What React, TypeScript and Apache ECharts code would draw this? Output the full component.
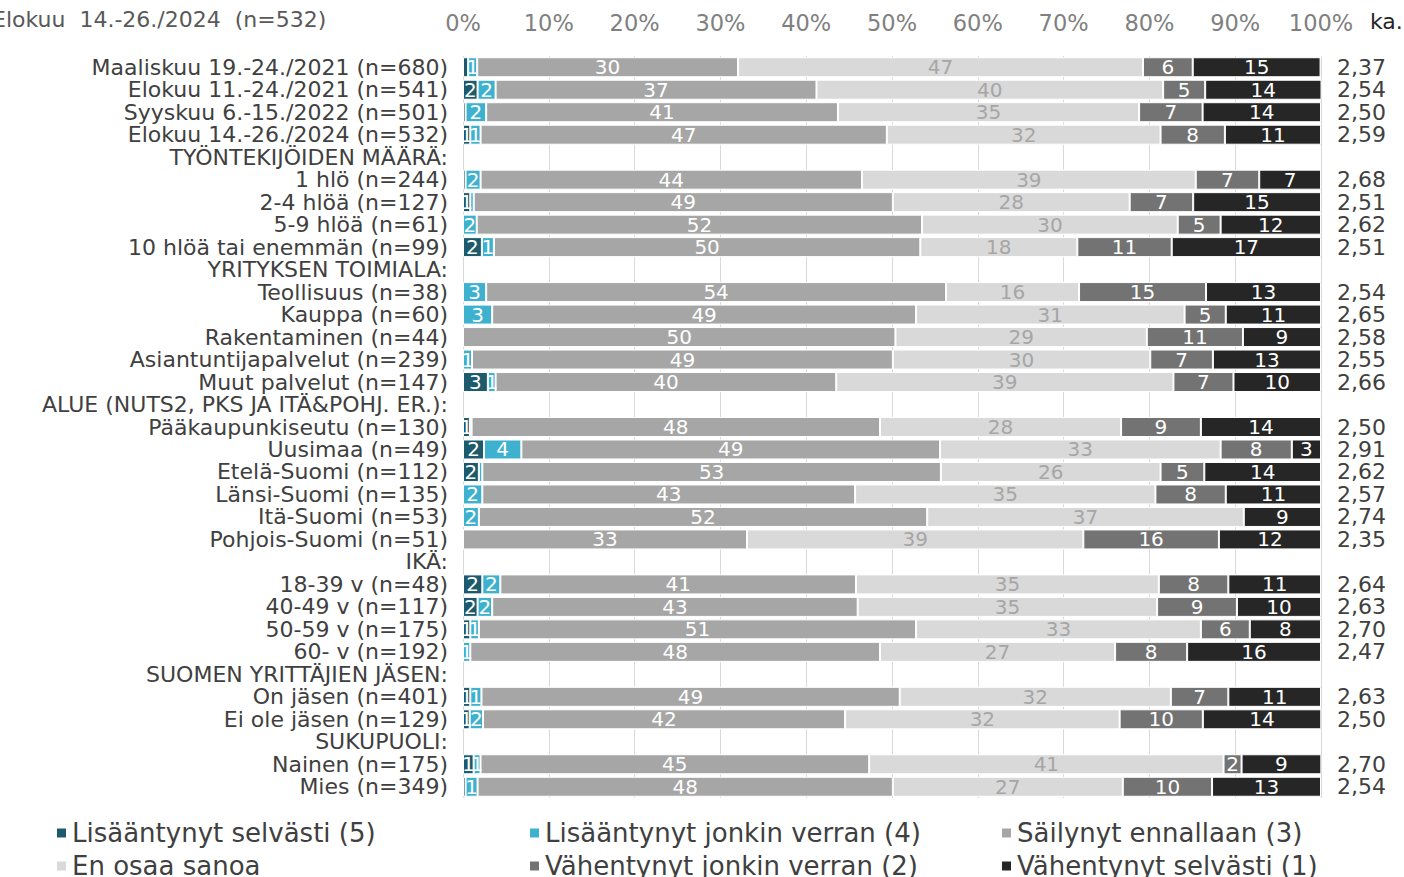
import React, { useEffect, useRef } from "react";
import * as echarts from "echarts";

const categories = [
  "Maaliskuu 19.-24./2021 (n=680)",
  "Elokuu 11.-24./2021 (n=541)",
  "Syyskuu 6.-15./2022 (n=501)",
  "Elokuu 14.-26./2024 (n=532)",
  "TYÖNTEKIJÖIDEN MÄÄRÄ:",
  "1 hlö (n=244)",
  "2-4 hlöä (n=127)",
  "5-9 hlöä (n=61)",
  "10 hlöä tai enemmän (n=99)",
  "YRITYKSEN TOIMIALA:",
  "Teollisuus (n=38)",
  "Kauppa (n=60)",
  "Rakentaminen (n=44)",
  "Asiantuntijapalvelut (n=239)",
  "Muut palvelut (n=147)",
  "ALUE (NUTS2, PKS JA ITÄ&POHJ. ER.):",
  "Pääkaupunkiseutu (n=130)",
  "Uusimaa (n=49)",
  "Etelä-Suomi (n=112)",
  "Länsi-Suomi (n=135)",
  "Itä-Suomi (n=53)",
  "Pohjois-Suomi (n=51)",
  "IKÄ:",
  "18-39 v (n=48)",
  "40-49 v (n=117)",
  "50-59 v (n=175)",
  "60- v (n=192)",
  "SUOMEN YRITTÄJIEN JÄSEN:",
  "On jäsen (n=401)",
  "Ei ole jäsen (n=129)",
  "SUKUPUOLI:",
  "Nainen (n=175)",
  "Mies (n=349)",
];

const averages = [
  "2,37", "2,54", "2,50", "2,59", "",
  "2,68", "2,51", "2,62", "2,51", "",
  "2,54", "2,65", "2,58", "2,55", "2,66", "",
  "2,50", "2,91", "2,62", "2,57", "2,74", "2,35", "",
  "2,64", "2,63", "2,70", "2,47", "",
  "2,63", "2,50", "",
  "2,70", "2,54",
];

const N = null;
const lisSelvasti = [0.6, 1.7, 0.3, 0.85, N, 0.3, 0.85, 0, 2.2, N, 0, 0, 0, 0, 2.9, N, 0.8, 2.45, 1.85, 0, 0, 0, N, 2.25, 1.7, 0.85, 0, N, 0.85, 0.78, N, 1.24, 0.3];
const lisJonkin = [1.05, 2.1, 2.4, 1.2, N, 1.75, 0.4, 1.6, 1.4, N, 2.7, 3.4, 0, 1.05, 0.9, N, 0.2, 4.35, 0.4, 2.25, 1.85, 0, N, 2.1, 1.7, 1.0, 0.85, N, 1.3, 1.55, N, 0.8, 1.4];
const sailynyt = [30.4, 37.4, 41.0, 47.35, N, 44.45, 48.85, 51.9, 49.7, N, 53.6, 49.4, 50.4, 49.05, 39.7, N, 47.6, 48.8, 53.45, 43.45, 52.25, 33.1, N, 41.45, 42.6, 50.95, 47.75, N, 48.75, 42.2, N, 45.3, 48.4];
const enOsaa = [47.2, 40.4, 35.1, 31.9, N, 38.9, 27.6, 29.8, 18.3, N, 15.5, 31.3, 29.3, 30.0, 39.3, N, 28.1, 32.7, 25.6, 35.0, 36.9, 39.2, N, 35.3, 34.9, 33.2, 27.4, N, 31.6, 32.0, N, 41.3, 26.8];
const vahJonkin = [5.8, 4.9, 7.4, 7.5, N, 7.4, 7.4, 5.0, 11.0, N, 14.8, 4.8, 11.2, 7.3, 7.0, N, 9.3, 8.3, 5.1, 8.2, 0, 15.8, N, 8.1, 9.3, 5.7, 8.4, N, 6.7, 9.7, N, 2.1, 10.4];
const vahSelvasti = [14.9, 13.6, 13.8, 11.2, N, 7.2, 14.9, 11.7, 17.4, N, 13.4, 11.1, 9.1, 12.6, 10.2, N, 14.0, 3.4, 13.6, 11.1, 9.0, 11.9, N, 10.8, 9.8, 8.3, 15.6, N, 10.8, 13.8, N, 9.3, 12.7];

const seriesNames = [
  "Lisääntynyt selvästi (5)",
  "Lisääntynyt jonkin verran (4)",
  "Säilynyt ennallaan (3)",
  "En osaa sanoa",
  "Vähentynyt jonkin verran (2)",
  "Vähentynyt selvästi (1)",
];
const seriesData = [lisSelvasti, lisJonkin, sailynyt, enOsaa, vahJonkin, vahSelvasti];
const seriesColors = ["#1d5a6b", "#3eb1cf", "#a6a6a6", "#d9d9d9", "#737373", "#262626"];
const labelColors = ["#ffffff", "#ffffff", "#ffffff", "#a6a6a6", "#ffffff", "#ffffff"];
const xTicks = [0, 10, 20, 30, 40, 50, 60, 70, 80, 90, 100];

const FONT = "DejaVu Sans";

export default function App() {
  const ref = useRef<HTMLDivElement>(null);
  useEffect(() => {
    if (!ref.current) return;
    const chart = echarts.init(ref.current, null, { renderer: "svg" });
    const series = seriesData.map((d, i) => ({
      name: seriesNames[i],
      type: "bar",
      stack: "total",
      barWidth: 20,
      data: d,
      itemStyle: { color: seriesColors[i], borderColor: "#ffffff", borderWidth: 1 },
      label: {
        show: true,
        position: "inside",
        color: labelColors[i],
        fontSize: 20,
        fontFamily: FONT,
        formatter: (p: any) => (p.value != null && p.value >= 0.7 ? String(Math.round(p.value)) : ""),
      },
      emphasis: { disabled: true },
    }));
    const legendText = { fontSize: 26, color: "#404040", fontFamily: FONT };
    const legendLefts = [55, 528, 1000, 55, 528, 1000];
    const legendTops = [820, 820, 820, 853, 853, 853];
    const legends = seriesNames.map((name, i) => ({
      data: [name],
      left: legendLefts[i],
      top: legendTops[i],
      orient: "horizontal",
      icon: "rect",
      itemWidth: 11,
      itemHeight: 11,
      itemTextGap: 6,
      padding: 0,
      selectedMode: false,
      textStyle: legendText,
    }));
    chart.setOption({
      animation: false,
      textStyle: { fontFamily: FONT },
      grid: { left: 463, right: 83, top: 56, height: 742, containLabel: false },
      xAxis: {
        type: "value",
        position: "top",
        min: xTicks[0],
        max: xTicks[xTicks.length - 1],
        interval: 10,
        axisLine: { show: false },
        axisTick: { show: false },
        splitLine: { show: true, lineStyle: { color: "#d9d9d9", width: 1 } },
        axisLabel: { formatter: "{value}%", fontSize: 22.5, color: "#808080", margin: 22, fontFamily: FONT },
      },
      yAxis: [
        {
          type: "category",
          inverse: true,
          data: categories,
          axisLine: { show: false },
          axisTick: { show: false },
          axisLabel: { fontSize: 22, color: "#404040", margin: 15, fontFamily: FONT, interval: 0 },
        },
        {
          type: "category",
          inverse: true,
          position: "right",
          data: averages,
          axisLine: { show: false },
          axisTick: { show: false },
          axisLabel: { fontSize: 22, color: "#404040", margin: 16, align: "left", fontFamily: FONT, interval: 0 },
        },
      ],
      legend: legends,
      graphic: [
        {
          type: "text",
          left: -8,
          top: 8,
          style: { text: "Elokuu  14.-26./2024  (n=532)", fontSize: 22, fill: "#595959", fontFamily: FONT },
        },
        {
          type: "text",
          left: 1370,
          top: 10,
          style: { text: "ka.", fontSize: 22, fill: "#262626", fontFamily: FONT },
        },
      ],
      series,
    });
    return () => chart.dispose();
  }, []);
  return <div ref={ref} style={{ width: 1404, height: 877, position: "absolute", left: 0, top: 0 }} />;
}
